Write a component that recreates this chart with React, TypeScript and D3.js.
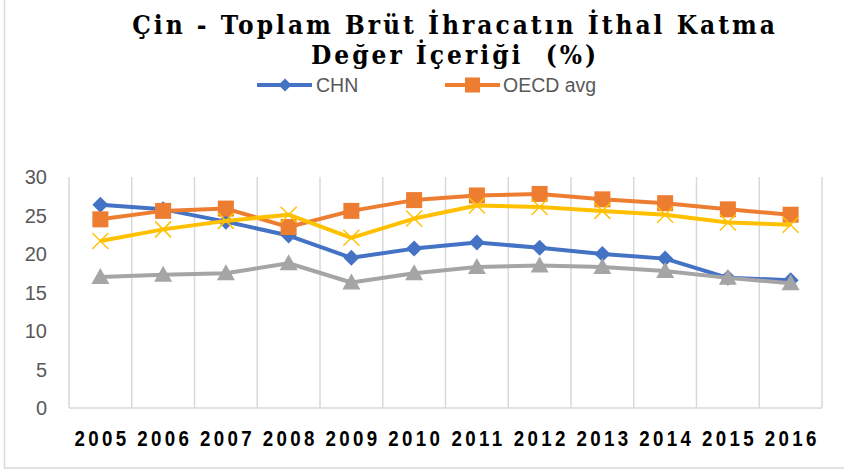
import React from "react";
import * as d3 from "d3";

const years = ["2005","2006","2007","2008","2009","2010","2011","2012","2013","2014","2015","2016"];
const chn = [26.4, 25.8, 24.2, 22.4, 19.5, 20.7, 21.5, 20.8, 20.0, 19.4, 16.9, 16.6];
const oecd = [24.5, 25.6, 25.9, 23.5, 25.6, 27.0, 27.6, 27.8, 27.1, 26.6, 25.8, 25.1];
const series3 = [21.7, 23.2, 24.3, 25.1, 22.1, 24.6, 26.3, 26.1, 25.6, 25.1, 24.1, 23.8];
const series4 = [17.0, 17.3, 17.5, 18.8, 16.3, 17.5, 18.3, 18.5, 18.3, 17.8, 16.9, 16.2];
const yTicks = [0, 5, 10, 15, 20, 25, 30];

const W = 844, H = 471;
const left = 69, right = 822, top = 177, bottom = 408;

export default function App() {
  const x = d3.scaleBand().domain(years).range([left, right]);
  const y = d3.scaleLinear().domain([0, 30]).range([bottom, top]);
  const line = d3.line<number>().x((_, i) => x(years[i])! + x.bandwidth() / 2).y(d => y(d));
  const cx = (i: number) => x(years[i])! + x.bandwidth() / 2;

  const bounds = years.map(yr => x(yr)!).concat([right]);

  const diamond = (px: number, py: number, r: number) => `M${px},${py - r}L${px + r},${py}L${px},${py + r}L${px - r},${py}Z`;
  const titleFont = "'DejaVu Serif Condensed', 'DejaVu Serif', serif";
  const legendFont = "'Liberation Sans', Arial, sans-serif";

  return (
    <svg width={W} height={H} style={{ position: "absolute", left: 0, top: 0, background: "#fff" }}>
      <rect x={4.5} y={-5} width={W + 5} height={473} fill="#fff" stroke="#d9d9d9" strokeWidth={1.5} />
      <text x={455} y={34} textAnchor="middle" fontFamily={titleFont} fontWeight="bold" fontSize={26} letterSpacing={3} fill="#000">Çin - Toplam Brüt İhracatın İthal Katma</text>
      <text x={455} y={64} textAnchor="middle" fontFamily={titleFont} fontWeight="bold" fontSize={26} letterSpacing={3} fill="#000" style={{ whiteSpace: "pre" }}>{"Değer İçeriği  (%)"}</text>

      {/* legend */}
      <line x1={257} x2={312} y1={85} y2={85} stroke="#4472c4" strokeWidth={4} />
      <path d={diamond(285, 85, 6.5)} fill="#4472c4" />
      <text x={316} y={92} fontFamily={legendFont} fontSize={19.5} fill="#595959">CHN</text>
      <line x1={445} x2={500} y1={85} y2={85} stroke="#ed7d31" strokeWidth={4} />
      <rect x={465} y={77.5} width={15} height={15} fill="#ed7d31" />
      <text x={503} y={92} fontFamily={legendFont} fontSize={19.5} fill="#595959">OECD avg</text>

      {/* grid */}
      {bounds.map((bx, i) => (
        <line key={i} x1={bx} x2={bx} y1={top} y2={bottom} stroke="#d9d9d9" strokeWidth={1.5} />
      ))}
      <line x1={left} x2={right} y1={bottom} y2={bottom} stroke="#d9d9d9" strokeWidth={1.5} />

      {yTicks.map(t => (
        <text key={t} x={47} y={y(t) + 7} textAnchor="end" fontFamily="'Liberation Sans', Arial, sans-serif" fontSize={20} fill="#595959">{t}</text>
      ))}
      {years.map(yr => (
        <text key={yr} transform={`translate(${x(yr)! + x.bandwidth() / 2 + 1.7},446) scale(0.85,1)`} textAnchor="middle" fontFamily="'Liberation Sans', Arial, sans-serif" fontWeight="bold" fontSize={22} letterSpacing={4} fill="#000">{yr}</text>
      ))}

      {/* CHN */}
      <path d={line(chn)!} fill="none" stroke="#4472c4" strokeWidth={4} strokeLinejoin="round" />
      {chn.map((v, i) => <path key={i} d={diamond(cx(i), y(v), 8)} fill="#4472c4" />)}
      {/* OECD */}
      <path d={line(oecd)!} fill="none" stroke="#ed7d31" strokeWidth={4} strokeLinejoin="round" />
      {oecd.map((v, i) => <rect key={i} x={cx(i) - 8} y={y(v) - 8} width={16} height={16} fill="#ed7d31" />)}
      {/* series 3 */}
      <path d={line(series3)!} fill="none" stroke="#ffc000" strokeWidth={4} strokeLinejoin="round" />
      {series3.map((v, i) => (
        <g key={i} stroke="#ffc000" strokeWidth={1.5}>
          <line x1={cx(i) - 8} x2={cx(i) + 8} y1={y(v) - 8} y2={y(v) + 8} />
          <line x1={cx(i) - 8} x2={cx(i) + 8} y1={y(v) + 8} y2={y(v) - 8} />
        </g>
      ))}
      {/* series 4 */}
      <path d={line(series4)!} fill="none" stroke="#a5a5a5" strokeWidth={4} strokeLinejoin="round" />
      {series4.map((v, i) => (
        <path key={i} d={`M${cx(i)},${y(v) - 9}L${cx(i) + 9},${y(v) + 7}L${cx(i) - 9},${y(v) + 7}Z`} fill="#a5a5a5" />
      ))}
    </svg>
  );
}
